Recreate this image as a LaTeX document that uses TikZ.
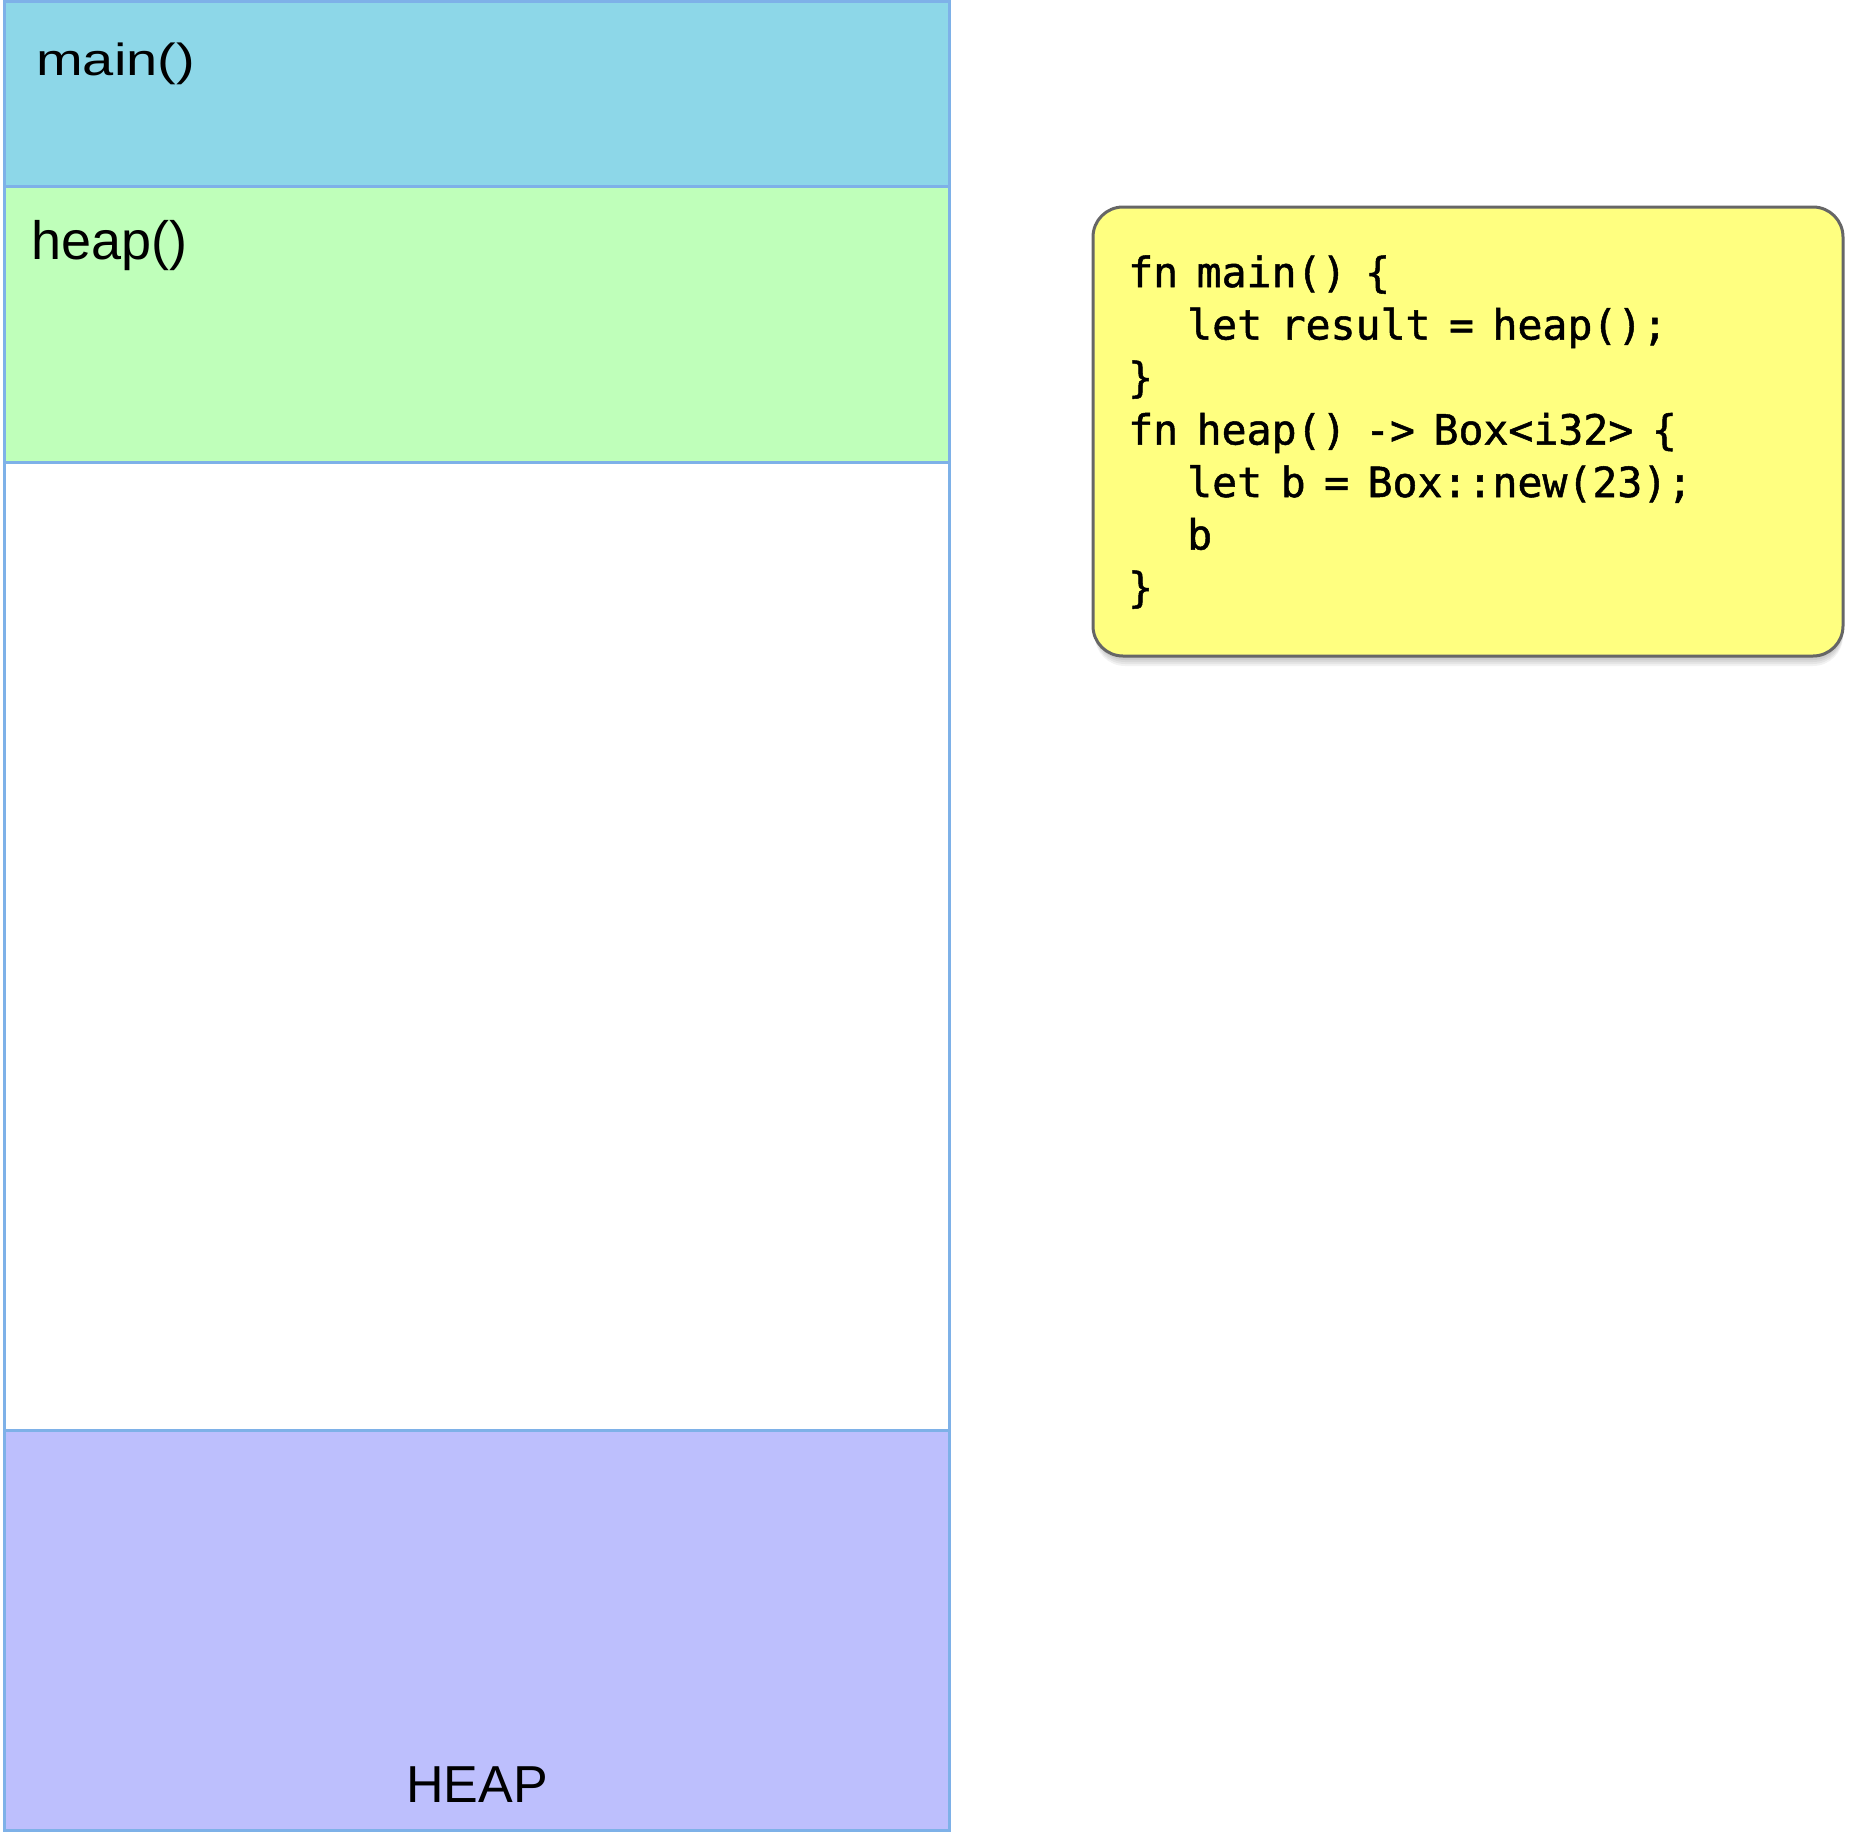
\documentclass[tikz,border=0pt]{standalone}
\usepackage{fontspec}
\usepackage{graphicx}
\setmainfont{Liberation Sans}
\newfontfamily\codefont[WordSpace=0.74,FakeBold=1.2]{DejaVu Sans Mono}
\definecolor{mainfill}{HTML}{8DD7E8}
\definecolor{heapfnfill}{HTML}{BFFFBA}
\definecolor{heapzone}{HTML}{BDBFFD}
\definecolor{stackline}{HTML}{7EB1E8}
\definecolor{codefill}{HTML}{FFFF80}
\definecolor{codeline}{HTML}{666666}
\tikzset{
  stackedge/.style={draw=stackline, line width=3pt},
  label/.style={anchor=base west, inner sep=0pt, text=black},
  codeln/.style={anchor=base west, inner sep=0pt, text=black, font=\codefont\fontsize{41.5}{48}\selectfont},
  codebox/.style={fill=codefill, draw=codeline, line width=3pt, rounded corners=30pt},
  shadowlayer/.style={fill=black, opacity=0.05, rounded corners=30pt}
}
\begin{document}
\begin{tikzpicture}[x=1pt,y=-1pt]
\useasboundingbox (0,0) rectangle (1853,1833);
\fill[white] (0,0) rectangle (1853,1833);
% stack sections
\fill[mainfill] (4,2) rectangle (949,186);
\fill[heapfnfill] (4,186) rectangle (949,462);
\fill[white] (4,462) rectangle (949,1430);
\fill[heapzone] (4,1430) rectangle (949,1830);
\draw[stackedge] (4,2) rectangle (949,1830);
\draw[stackedge] (4,186) -- (949,186);
\draw[stackedge] (4,462) -- (949,462);
\draw[stackedge] (4,1430) -- (949,1430);
% labels
\node[label, font=\fontsize{45}{52}\selectfont] (lmain) at (36,76) {\scalebox{1.245}[1]{main()}};
\node[label, font=\fontsize{54}{62}\selectfont] (lheap) at (31,259) {heap()};
\node[anchor=base, inner sep=0pt, font=\fontsize{52}{60}\selectfont] (lHEAP) at (477,1802) {HEAP};
% code box shadow
\foreach \d in {2,4,6,8,10}{
  \fill[shadowlayer] (1095,207+\d) rectangle (1843,656+\d);
}
\draw[codebox] (1093,207) rectangle (1843,656);
% code lines
\node[codeln] (c1) at (1128,287) {fn main() \{};
\node[codeln] (c2) at (1187,339.5) {let result = heap();};
\node[codeln] (c3) at (1128,392) {\}};
\node[codeln] (c4) at (1128,444.5) {fn heap() -> Box<i32> \{};
\node[codeln] (c5) at (1187,497) {let b = Box::new(23);};
\node[codeln] (c6) at (1187,549.5) {b};
\node[codeln] (c7) at (1128,602) {\}};
\end{tikzpicture}
\end{document}
